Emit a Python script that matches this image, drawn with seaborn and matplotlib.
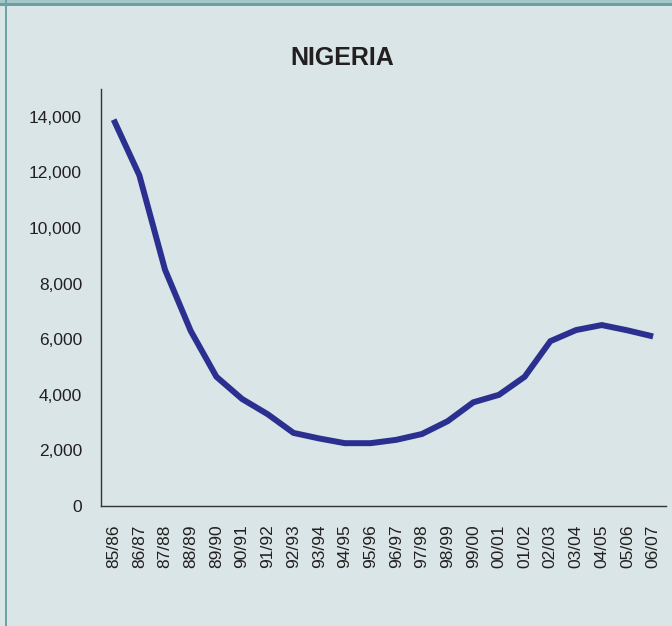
import matplotlib
matplotlib.use("Agg")
import matplotlib.pyplot as plt
import seaborn as sns
from matplotlib.patches import Rectangle
from matplotlib.ticker import FuncFormatter

seasons = ['85/86', '86/87', '87/88', '88/89', '89/90', '90/91', '91/92', '92/93',
           '93/94', '94/95', '95/96', '96/97', '97/98', '98/99', '99/00', '00/01',
           '01/02', '02/03', '03/04', '04/05', '05/06', '06/07']
values = [13900, 11900, 8500, 6300, 4650, 3850, 3300, 2630, 2430, 2260, 2260,
          2380, 2590, 3050, 3730, 4000, 4650, 5930, 6330, 6510, 6320, 6100]
y_ticks = [0, 2000, 4000, 6000, 8000, 10000, 12000, 14000]
title = 'NIGERIA'

bg = '#d9e5e6'
line_color = '#2b3090'
text_color = '#231f20'

sns.set_style('white')
plt.rcParams['font.family'] = ['Liberation Sans', 'DejaVu Sans']

fig = plt.figure(figsize=(6.72, 6.26), dpi=100, facecolor=bg)
ax = fig.add_axes([0.150, 0.1917, 0.841, 0.666])
ax.set_facecolor(bg)

sns.lineplot(x=seasons, y=values, ax=ax, sort=False, color=line_color,
             linewidth=4.3, solid_joinstyle='miter', solid_capstyle='butt')

ax.set_xlim(-0.5, len(seasons) - 0.5)
ax.set_ylim(0, 15000)
ax.set_yticks(y_ticks)
ax.yaxis.set_major_formatter(FuncFormatter(lambda v, p: f'{int(v):,}'))
ax.set_xticks(range(len(seasons)))
ax.set_xticklabels(seasons, rotation=90)
ax.tick_params(axis='both', length=0, pad=13.5, labelsize=12.5, labelcolor=text_color)
ax.set_xlabel('')
ax.set_ylabel('')

for side in ['top', 'right']:
    ax.spines[side].set_visible(False)
for side in ['left', 'bottom']:
    ax.spines[side].set_color('#333333')
    ax.spines[side].set_linewidth(1.0)

fig.text(0.509, 0.907, title, ha='center', va='center', fontsize=18,
         fontweight='bold', color=text_color,
         family=['Liberation Sans Narrow', 'Liberation Sans', 'DejaVu Sans'])

# frame decoration: teal strip on top, teal rule on the left
fig.patches.append(Rectangle((0, 1 - 3 / 626), 1, 3 / 626, transform=fig.transFigure,
                             facecolor='#a3c6c8', edgecolor='none', zorder=0))
fig.patches.append(Rectangle((0, 1 - 6 / 626), 1, 3 / 626, transform=fig.transFigure,
                             facecolor='#6a9fa3', edgecolor='none', zorder=0))
fig.patches.append(Rectangle((5 / 672, 0), 2.5 / 672, 1, transform=fig.transFigure,
                             facecolor='#6fa3a6', edgecolor='none', zorder=0))

fig.savefig('out.png', dpi=100, facecolor=bg)
